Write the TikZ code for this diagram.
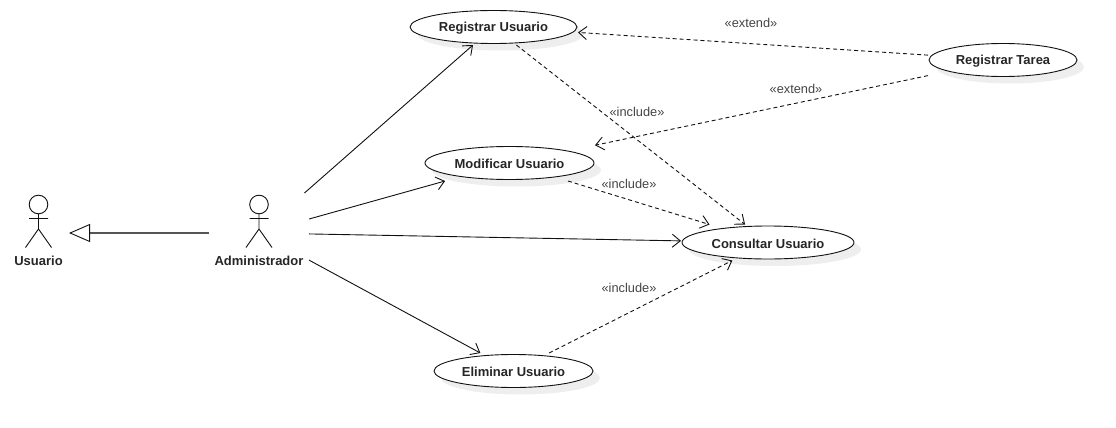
\documentclass[tikz,border=0pt]{standalone}
\usepackage{fontspec}
\setmainfont{Liberation Sans}
\usetikzlibrary{arrows.meta,shapes.geometric}
\definecolor{linecol}{HTML}{111111}
\definecolor{labelcol}{HTML}{444444}
\definecolor{shadowcol}{HTML}{EEEEEE}
\definecolor{genercol}{HTML}{555555}
\tikzset{
  caseanchor/.style n args={2}{rectangle,inner sep=0pt,outer sep=0pt,minimum width=#1+2pt,minimum height=#2},
  caseshadow/.style={ellipse,fill=shadowcol,inner sep=0pt,minimum width=#1,minimum height=33pt},
  usecase/.style={ellipse,draw=linecol,line width=0.9pt,fill=white,inner sep=0pt,
    minimum width=#1,minimum height=33pt},
  casetext/.style={inner sep=0pt,font=\fontsize{13}{15}\selectfont\bfseries,text=black!85},
  actorbox/.style={rectangle,inner sep=0pt,outer sep=0pt},
  actorname/.style={inner sep=0pt,font=\fontsize{13}{15}\selectfont\bfseries,text=black!85},
  stereo/.style={inner sep=0pt,font=\fontsize{12.8}{14}\selectfont,text=labelcol},
  assoc/.style={draw=linecol,line width=0.9pt,-{Straight Barb[length=8pt,width=13pt,line width=0.9pt]}},
  dep/.style={assoc,dash pattern=on 4pt off 3pt},
  stick/.style={draw=linecol,line width=0.9pt}
}
\newcommand{\stickfigure}[1]{%
  \draw[stick,shift={(#1.center)}] (0,-28.5) circle (9.3pt)
    (0,-19) -- (0,-4) (-9.5,-14.5) -- (9.5,-14.5)
    (0,-4) -- (-13,14.5) (0,-4) -- (13,14.5);}
\newcommand{\caseback}[3]{%
  \node[caseanchor={#3pt}{36pt}] (#1) at #2 {};
  \node[caseshadow=#3pt] (#1Shadow) at ([shift={(7pt,-7pt)}]#1.center) {};}
\newcommand{\casefront}[3]{%
  \node[usecase=#2pt] (#1Shape) at (#1.center) {};
  \node[casetext] (#1Text) at ([yshift=-1.2pt]#1.center) {#3};}
\begin{document}
\begin{tikzpicture}[x=1pt,y=-1pt]
\useasboundingbox (0,0) rectangle (1116,428);
% anchors and shadows
\caseback{regU}{(493.5,27)}{167}
\caseback{modU}{(509.5,163)}{169}
\caseback{conU}{(768,242.5)}{172}
\caseback{eliU}{(513.5,371)}{159}
\caseback{regT}{(1003,60)}{148}
% actors
\node[actorbox,minimum width=61pt,minimum height=80pt] (usuario) at (38.5,233) {};
\node[actorbox,minimum width=100pt,minimum height=80pt] (admin) at (259,233) {};
\stickfigure{usuario}
\stickfigure{admin}
\node[actorname] (usuarioText) at (38.5,260.8) {Usuario};
\node[actorname] (adminText) at (259,260.8) {Administrador};
% connectors
\draw[draw=genercol,line width=1.7pt,-{Triangle[open,length=21pt,width=18pt,line width=0.9pt,color=linecol,fill=white]}] (admin) -- (usuario);
\draw[assoc] (admin) -- (regU);
\draw[assoc] (admin) -- (modU);
\draw[assoc] (admin) -- (conU);
\draw[assoc] (admin) -- (eliU);
\draw[dep] (regU) -- (conU);
\draw[dep] (modU) -- (conU);
\draw[dep] (eliU) -- (conU);
\draw[dep] (regT) -- (regU);
\draw[dep] (regT) -- (modU);
% use cases on top
\casefront{regU}{167}{Registrar Usuario}
\casefront{modU}{169}{Modificar Usuario}
\casefront{conU}{172}{Consultar Usuario}
\casefront{eliU}{159}{Eliminar Usuario}
\casefront{regT}{148}{Registrar Tarea}
% labels
\node[stereo] (ext1) at (751,23) {«extend»};
\node[stereo] (ext2) at (796,88.5) {«extend»};
\node[stereo] (inc1) at (637,112) {«include»};
\node[stereo] (inc2) at (629,183.5) {«include»};
\node[stereo] (inc3) at (629,287.5) {«include»};
\end{tikzpicture}
\end{document}
